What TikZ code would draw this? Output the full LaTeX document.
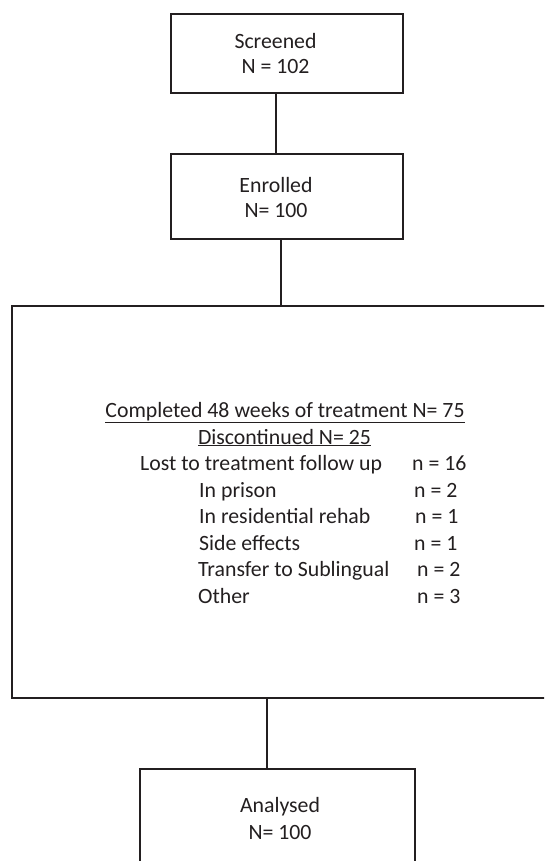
\documentclass[tikz,border=0pt]{standalone}
\usepackage{fontspec}
\setmainfont{Carlito}
\definecolor{linec}{HTML}{231F20}
\definecolor{textc}{HTML}{231F20}
\begin{document}
\begin{tikzpicture}[x=1pt,y=-1pt,
  box/.style={draw=linec, line width=1.8pt, inner sep=0pt, outer sep=0pt},
  conn/.style={draw=linec, line width=1.8pt},
  txt/.style={inner sep=0pt, text=textc, font=\fontsize{21.8}{26.6}\selectfont}]
\useasboundingbox (0,0) rectangle (544,861);
\clip (0,0) rectangle (544,861);
% boxes
\node[box, minimum width=232pt, minimum height=79pt, anchor=north west] (screened) at (171,14) {};
\node[box, minimum width=232pt, minimum height=85pt, anchor=north west] (enrolled) at (171,154) {};
\node[box, minimum width=560pt, minimum height=392pt, anchor=north west] (big) at (12,306) {};
\node[box, minimum width=275pt, minimum height=110pt, anchor=north west] (analysed) at (140,769) {};
% connectors
\coordinate (k1) at (276,0);
\coordinate (k2) at (281,0);
\coordinate (k3) at (267,0);
\draw[conn] (screened.south -| k1) -- (enrolled.north -| k1);
\draw[conn] (enrolled.south -| k2) -- (big.north -| k2);
\draw[conn] (big.south -| k3) -- (analysed.north -| k3);
% texts
\node[txt, anchor=base] (t1) at (275.5,49) {Screened};
\node[txt, anchor=base] (t2) at (275.5,74) {N = 102};
\node[txt, anchor=base] (t3) at (276,192) {Enrolled};
\node[txt, anchor=base] (t4) at (276,217) {N= 100};
\node[txt, anchor=base] (c1) at (285,417) {\underline{Completed 48 weeks of treatment N= 75}};
\node[txt, anchor=base] (c2) at (284.5,444) {\underline{Discontinued N= 25}};
\node[txt, anchor=base west] (l1) at (140,470) {Lost to treatment follow up};
\node[txt, anchor=base west] (n1) at (412,470) {n = 16};
\node[txt, anchor=base west] (l2) at (199,497) {In prison};
\node[txt, anchor=base west] (n2) at (414,497) {n = 2};
\node[txt, anchor=base west] (l3) at (199,523) {In residential rehab};
\node[txt, anchor=base west] (n3) at (415,523) {n = 1};
\node[txt, anchor=base west] (l4) at (199,550) {Side effects};
\node[txt, anchor=base west] (n4) at (414,550) {n = 1};
\node[txt, anchor=base west] (l5) at (198,576) {Transfer to Sublingual};
\node[txt, anchor=base west] (n5) at (417,576) {n = 2};
\node[txt, anchor=base west] (l6) at (198,603) {Other};
\node[txt, anchor=base west] (n6) at (417,603) {n = 3};
\node[txt, anchor=base] (t5) at (280,812) {Analysed};
\node[txt, anchor=base] (t6) at (280,839) {N= 100};
\end{tikzpicture}
\end{document}
